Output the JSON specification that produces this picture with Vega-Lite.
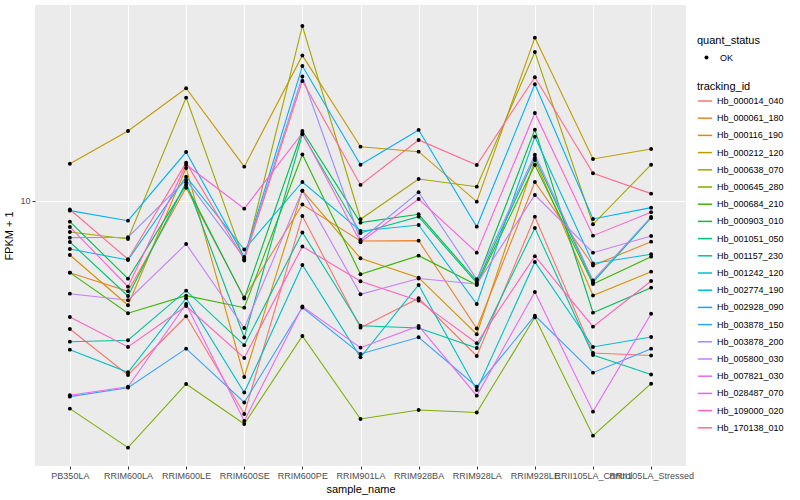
{
"$schema": "https://vega.github.io/schema/vega-lite/v6.json",
"width": 651, "height": 461,
"autosize": {"type": "none"},
"padding": {"left": 35, "top": 5, "right": 114, "bottom": 34},
"background": "white",
"config": {
  "view": {"fill": "#EBEBEB", "stroke": null},
  "font": "Liberation Sans Narrow, Liberation Sans, sans-serif",
  "axis": {"domain": false, "grid": true, "gridColor": "#FFFFFF", "gridWidth": 1.1, "tickColor": "#333333", "tickSize": 3, "tickWidth": 1, "labelColor": "#4D4D4D", "labelFontSize": 9, "titleFontSize": 11, "titleColor": "#000000", "titleFontWeight": "normal"},
  "legend": {"titleFontSize": 11, "titleFontWeight": "normal", "titleColor": "#000000", "labelFontSize": 9, "labelColor": "#000000"}
},
"data": {"values": [
{"tracking_id":"Hb_000014_040","sample_name":"PB350LA","FPKM":3.744,"quant_status":"OK"},
{"tracking_id":"Hb_000014_040","sample_name":"RRIM600LA","FPKM":2.630,"quant_status":"OK"},
{"tracking_id":"Hb_000014_040","sample_name":"RRIM600LE","FPKM":4.128,"quant_status":"OK"},
{"tracking_id":"Hb_000014_040","sample_name":"RRIM600SE","FPKM":1.950,"quant_status":"OK"},
{"tracking_id":"Hb_000014_040","sample_name":"RRIM600PE","FPKM":8.913,"quant_status":"OK"},
{"tracking_id":"Hb_000014_040","sample_name":"RRIM901LA","FPKM":3.782,"quant_status":"OK"},
{"tracking_id":"Hb_000014_040","sample_name":"RRIM928BA","FPKM":4.739,"quant_status":"OK"},
{"tracking_id":"Hb_000014_040","sample_name":"RRIM928LA","FPKM":3.043,"quant_status":"OK"},
{"tracking_id":"Hb_000014_040","sample_name":"RRIM928LE","FPKM":8.865,"quant_status":"OK"},
{"tracking_id":"Hb_000014_040","sample_name":"RRII105LA_Control","FPKM":3.114,"quant_status":"OK"},
{"tracking_id":"Hb_000014_040","sample_name":"RRII105LA_Stressed","FPKM":3.055,"quant_status":"OK"},
{"tracking_id":"Hb_000061_180","sample_name":"PB350LA","FPKM":5.768,"quant_status":"OK"},
{"tracking_id":"Hb_000061_180","sample_name":"RRIM600LA","FPKM":5.000,"quant_status":"OK"},
{"tracking_id":"Hb_000061_180","sample_name":"RRIM600LE","FPKM":11.07,"quant_status":"OK"},
{"tracking_id":"Hb_000061_180","sample_name":"RRIM600SE","FPKM":4.768,"quant_status":"OK"},
{"tracking_id":"Hb_000061_180","sample_name":"RRIM600PE","FPKM":9.734,"quant_status":"OK"},
{"tracking_id":"Hb_000061_180","sample_name":"RRIM901LA","FPKM":7.357,"quant_status":"OK"},
{"tracking_id":"Hb_000061_180","sample_name":"RRIM928BA","FPKM":7.374,"quant_status":"OK"},
{"tracking_id":"Hb_000061_180","sample_name":"RRIM928LA","FPKM":3.758,"quant_status":"OK"},
{"tracking_id":"Hb_000061_180","sample_name":"RRIM928LE","FPKM":11.57,"quant_status":"OK"},
{"tracking_id":"Hb_000061_180","sample_name":"RRII105LA_Control","FPKM":6.095,"quant_status":"OK"},
{"tracking_id":"Hb_000061_180","sample_name":"RRII105LA_Stressed","FPKM":7.317,"quant_status":"OK"},
{"tracking_id":"Hb_000116_190","sample_name":"PB350LA","FPKM":6.607,"quant_status":"OK"},
{"tracking_id":"Hb_000116_190","sample_name":"RRIM600LA","FPKM":4.491,"quant_status":"OK"},
{"tracking_id":"Hb_000116_190","sample_name":"RRIM600LE","FPKM":12.88,"quant_status":"OK"},
{"tracking_id":"Hb_000116_190","sample_name":"RRIM600SE","FPKM":2.590,"quant_status":"OK"},
{"tracking_id":"Hb_000116_190","sample_name":"RRIM600PE","FPKM":10.82,"quant_status":"OK"},
{"tracking_id":"Hb_000116_190","sample_name":"RRIM901LA","FPKM":6.441,"quant_status":"OK"},
{"tracking_id":"Hb_000116_190","sample_name":"RRIM928BA","FPKM":5.550,"quant_status":"OK"},
{"tracking_id":"Hb_000116_190","sample_name":"RRIM928LA","FPKM":3.595,"quant_status":"OK"},
{"tracking_id":"Hb_000116_190","sample_name":"RRIM928LE","FPKM":13.70,"quant_status":"OK"},
{"tracking_id":"Hb_000116_190","sample_name":"RRII105LA_Control","FPKM":4.842,"quant_status":"OK"},
{"tracking_id":"Hb_000116_190","sample_name":"RRII105LA_Stressed","FPKM":5.812,"quant_status":"OK"},
{"tracking_id":"Hb_000212_120","sample_name":"PB350LA","FPKM":13.31,"quant_status":"OK"},
{"tracking_id":"Hb_000212_120","sample_name":"RRIM600LA","FPKM":17.11,"quant_status":"OK"},
{"tracking_id":"Hb_000212_120","sample_name":"RRIM600LE","FPKM":23.75,"quant_status":"OK"},
{"tracking_id":"Hb_000212_120","sample_name":"RRIM600SE","FPKM":13.01,"quant_status":"OK"},
{"tracking_id":"Hb_000212_120","sample_name":"RRIM600PE","FPKM":30.55,"quant_status":"OK"},
{"tracking_id":"Hb_000212_120","sample_name":"RRIM901LA","FPKM":15.17,"quant_status":"OK"},
{"tracking_id":"Hb_000212_120","sample_name":"RRIM928BA","FPKM":14.60,"quant_status":"OK"},
{"tracking_id":"Hb_000212_120","sample_name":"RRIM928LA","FPKM":9.946,"quant_status":"OK"},
{"tracking_id":"Hb_000212_120","sample_name":"RRIM928LE","FPKM":35.02,"quant_status":"OK"},
{"tracking_id":"Hb_000212_120","sample_name":"RRII105LA_Control","FPKM":13.80,"quant_status":"OK"},
{"tracking_id":"Hb_000212_120","sample_name":"RRII105LA_Stressed","FPKM":14.90,"quant_status":"OK"},
{"tracking_id":"Hb_000638_070","sample_name":"PB350LA","FPKM":7.883,"quant_status":"OK"},
{"tracking_id":"Hb_000638_070","sample_name":"RRIM600LA","FPKM":7.470,"quant_status":"OK"},
{"tracking_id":"Hb_000638_070","sample_name":"RRIM600LE","FPKM":22.10,"quant_status":"OK"},
{"tracking_id":"Hb_000638_070","sample_name":"RRIM600SE","FPKM":6.334,"quant_status":"OK"},
{"tracking_id":"Hb_000638_070","sample_name":"RRIM600PE","FPKM":38.31,"quant_status":"OK"},
{"tracking_id":"Hb_000638_070","sample_name":"RRIM901LA","FPKM":8.690,"quant_status":"OK"},
{"tracking_id":"Hb_000638_070","sample_name":"RRIM928BA","FPKM":11.84,"quant_status":"OK"},
{"tracking_id":"Hb_000638_070","sample_name":"RRIM928LA","FPKM":11.16,"quant_status":"OK"},
{"tracking_id":"Hb_000638_070","sample_name":"RRIM928LE","FPKM":31.38,"quant_status":"OK"},
{"tracking_id":"Hb_000638_070","sample_name":"RRII105LA_Control","FPKM":8.362,"quant_status":"OK"},
{"tracking_id":"Hb_000638_070","sample_name":"RRII105LA_Stressed","FPKM":13.21,"quant_status":"OK"},
{"tracking_id":"Hb_000645_280","sample_name":"PB350LA","FPKM":2.031,"quant_status":"OK"},
{"tracking_id":"Hb_000645_280","sample_name":"RRIM600LA","FPKM":1.506,"quant_status":"OK"},
{"tracking_id":"Hb_000645_280","sample_name":"RRIM600LE","FPKM":2.455,"quant_status":"OK"},
{"tracking_id":"Hb_000645_280","sample_name":"RRIM600SE","FPKM":1.806,"quant_status":"OK"},
{"tracking_id":"Hb_000645_280","sample_name":"RRIM600PE","FPKM":3.548,"quant_status":"OK"},
{"tracking_id":"Hb_000645_280","sample_name":"RRIM901LA","FPKM":1.876,"quant_status":"OK"},
{"tracking_id":"Hb_000645_280","sample_name":"RRIM928BA","FPKM":2.010,"quant_status":"OK"},
{"tracking_id":"Hb_000645_280","sample_name":"RRIM928LA","FPKM":1.972,"quant_status":"OK"},
{"tracking_id":"Hb_000645_280","sample_name":"RRIM928LE","FPKM":4.095,"quant_status":"OK"},
{"tracking_id":"Hb_000645_280","sample_name":"RRII105LA_Control","FPKM":1.651,"quant_status":"OK"},
{"tracking_id":"Hb_000645_280","sample_name":"RRII105LA_Stressed","FPKM":2.460,"quant_status":"OK"},
{"tracking_id":"Hb_000684_210","sample_name":"PB350LA","FPKM":5.77,"quant_status":"OK"},
{"tracking_id":"Hb_000684_210","sample_name":"RRIM600LA","FPKM":4.224,"quant_status":"OK"},
{"tracking_id":"Hb_000684_210","sample_name":"RRIM600LE","FPKM":4.834,"quant_status":"OK"},
{"tracking_id":"Hb_000684_210","sample_name":"RRIM600SE","FPKM":4.409,"quant_status":"OK"},
{"tracking_id":"Hb_000684_210","sample_name":"RRIM600PE","FPKM":14.29,"quant_status":"OK"},
{"tracking_id":"Hb_000684_210","sample_name":"RRIM901LA","FPKM":5.698,"quant_status":"OK"},
{"tracking_id":"Hb_000684_210","sample_name":"RRIM928BA","FPKM":6.572,"quant_status":"OK"},
{"tracking_id":"Hb_000684_210","sample_name":"RRIM928LA","FPKM":5.248,"quant_status":"OK"},
{"tracking_id":"Hb_000684_210","sample_name":"RRIM928LE","FPKM":13.18,"quant_status":"OK"},
{"tracking_id":"Hb_000684_210","sample_name":"RRII105LA_Control","FPKM":5.288,"quant_status":"OK"},
{"tracking_id":"Hb_000684_210","sample_name":"RRII105LA_Stressed","FPKM":6.521,"quant_status":"OK"},
{"tracking_id":"Hb_000903_010","sample_name":"PB350LA","FPKM":8.531,"quant_status":"OK"},
{"tracking_id":"Hb_000903_010","sample_name":"RRIM600LA","FPKM":5.508,"quant_status":"OK"},
{"tracking_id":"Hb_000903_010","sample_name":"RRIM600LE","FPKM":11.31,"quant_status":"OK"},
{"tracking_id":"Hb_000903_010","sample_name":"RRIM600SE","FPKM":4.732,"quant_status":"OK"},
{"tracking_id":"Hb_000903_010","sample_name":"RRIM600PE","FPKM":17.11,"quant_status":"OK"},
{"tracking_id":"Hb_000903_010","sample_name":"RRIM901LA","FPKM":8.467,"quant_status":"OK"},
{"tracking_id":"Hb_000903_010","sample_name":"RRIM928BA","FPKM":9.030,"quant_status":"OK"},
{"tracking_id":"Hb_000903_010","sample_name":"RRIM928LA","FPKM":5.411,"quant_status":"OK"},
{"tracking_id":"Hb_000903_010","sample_name":"RRIM928LE","FPKM":17.29,"quant_status":"OK"},
{"tracking_id":"Hb_000903_010","sample_name":"RRII105LA_Control","FPKM":4.243,"quant_status":"OK"},
{"tracking_id":"Hb_000903_010","sample_name":"RRII105LA_Stressed","FPKM":5.141,"quant_status":"OK"},
{"tracking_id":"Hb_001051_050","sample_name":"PB350LA","FPKM":7.300,"quant_status":"OK"},
{"tracking_id":"Hb_001051_050","sample_name":"RRIM600LA","FPKM":4.823,"quant_status":"OK"},
{"tracking_id":"Hb_001051_050","sample_name":"RRIM600LE","FPKM":11.53,"quant_status":"OK"},
{"tracking_id":"Hb_001051_050","sample_name":"RRIM600SE","FPKM":3.508,"quant_status":"OK"},
{"tracking_id":"Hb_001051_050","sample_name":"RRIM600PE","FPKM":16.68,"quant_status":"OK"},
{"tracking_id":"Hb_001051_050","sample_name":"RRIM901LA","FPKM":7.822,"quant_status":"OK"},
{"tracking_id":"Hb_001051_050","sample_name":"RRIM928BA","FPKM":8.865,"quant_status":"OK"},
{"tracking_id":"Hb_001051_050","sample_name":"RRIM928LA","FPKM":5.330,"quant_status":"OK"},
{"tracking_id":"Hb_001051_050","sample_name":"RRIM928LE","FPKM":13.94,"quant_status":"OK"},
{"tracking_id":"Hb_001051_050","sample_name":"RRII105LA_Control","FPKM":5.362,"quant_status":"OK"},
{"tracking_id":"Hb_001051_050","sample_name":"RRII105LA_Stressed","FPKM":8.776,"quant_status":"OK"},
{"tracking_id":"Hb_001157_230","sample_name":"PB350LA","FPKM":3.396,"quant_status":"OK"},
{"tracking_id":"Hb_001157_230","sample_name":"RRIM600LA","FPKM":3.433,"quant_status":"OK"},
{"tracking_id":"Hb_001157_230","sample_name":"RRIM600LE","FPKM":5.023,"quant_status":"OK"},
{"tracking_id":"Hb_001157_230","sample_name":"RRIM600SE","FPKM":3.306,"quant_status":"OK"},
{"tracking_id":"Hb_001157_230","sample_name":"RRIM600PE","FPKM":7.853,"quant_status":"OK"},
{"tracking_id":"Hb_001157_230","sample_name":"RRIM901LA","FPKM":3.840,"quant_status":"OK"},
{"tracking_id":"Hb_001157_230","sample_name":"RRIM928BA","FPKM":3.773,"quant_status":"OK"},
{"tracking_id":"Hb_001157_230","sample_name":"RRIM928LA","FPKM":3.236,"quant_status":"OK"},
{"tracking_id":"Hb_001157_230","sample_name":"RRIM928LE","FPKM":8.128,"quant_status":"OK"},
{"tracking_id":"Hb_001157_230","sample_name":"RRII105LA_Control","FPKM":3.067,"quant_status":"OK"},
{"tracking_id":"Hb_001157_230","sample_name":"RRII105LA_Stressed","FPKM":2.641,"quant_status":"OK"},
{"tracking_id":"Hb_001242_120","sample_name":"PB350LA","FPKM":3.194,"quant_status":"OK"},
{"tracking_id":"Hb_001242_120","sample_name":"RRIM600LA","FPKM":2.685,"quant_status":"OK"},
{"tracking_id":"Hb_001242_120","sample_name":"RRIM600LE","FPKM":4.739,"quant_status":"OK"},
{"tracking_id":"Hb_001242_120","sample_name":"RRIM600SE","FPKM":2.300,"quant_status":"OK"},
{"tracking_id":"Hb_001242_120","sample_name":"RRIM600PE","FPKM":6.119,"quant_status":"OK"},
{"tracking_id":"Hb_001242_120","sample_name":"RRIM901LA","FPKM":3.013,"quant_status":"OK"},
{"tracking_id":"Hb_001242_120","sample_name":"RRIM928BA","FPKM":5.248,"quant_status":"OK"},
{"tracking_id":"Hb_001242_120","sample_name":"RRIM928LA","FPKM":2.344,"quant_status":"OK"},
{"tracking_id":"Hb_001242_120","sample_name":"RRIM928LE","FPKM":6.262,"quant_status":"OK"},
{"tracking_id":"Hb_001242_120","sample_name":"RRII105LA_Control","FPKM":3.261,"quant_status":"OK"},
{"tracking_id":"Hb_001242_120","sample_name":"RRII105LA_Stressed","FPKM":3.521,"quant_status":"OK"},
{"tracking_id":"Hb_002774_190","sample_name":"PB350LA","FPKM":6.918,"quant_status":"OK"},
{"tracking_id":"Hb_002774_190","sample_name":"RRIM600LA","FPKM":6.358,"quant_status":"OK"},
{"tracking_id":"Hb_002774_190","sample_name":"RRIM600LE","FPKM":12.05,"quant_status":"OK"},
{"tracking_id":"Hb_002774_190","sample_name":"RRIM600SE","FPKM":6.891,"quant_status":"OK"},
{"tracking_id":"Hb_002774_190","sample_name":"RRIM600PE","FPKM":11.57,"quant_status":"OK"},
{"tracking_id":"Hb_002774_190","sample_name":"RRIM901LA","FPKM":7.943,"quant_status":"OK"},
{"tracking_id":"Hb_002774_190","sample_name":"RRIM928BA","FPKM":8.318,"quant_status":"OK"},
{"tracking_id":"Hb_002774_190","sample_name":"RRIM928LA","FPKM":4.536,"quant_status":"OK"},
{"tracking_id":"Hb_002774_190","sample_name":"RRIM928LE","FPKM":16.38,"quant_status":"OK"},
{"tracking_id":"Hb_002774_190","sample_name":"RRII105LA_Control","FPKM":6.190,"quant_status":"OK"},
{"tracking_id":"Hb_002774_190","sample_name":"RRII105LA_Stressed","FPKM":6.642,"quant_status":"OK"},
{"tracking_id":"Hb_002928_090","sample_name":"PB350LA","FPKM":9.283,"quant_status":"OK"},
{"tracking_id":"Hb_002928_090","sample_name":"RRIM600LA","FPKM":8.596,"quant_status":"OK"},
{"tracking_id":"Hb_002928_090","sample_name":"RRIM600LE","FPKM":14.56,"quant_status":"OK"},
{"tracking_id":"Hb_002928_090","sample_name":"RRIM600SE","FPKM":6.506,"quant_status":"OK"},
{"tracking_id":"Hb_002928_090","sample_name":"RRIM600PE","FPKM":28.18,"quant_status":"OK"},
{"tracking_id":"Hb_002928_090","sample_name":"RRIM901LA","FPKM":13.21,"quant_status":"OK"},
{"tracking_id":"Hb_002928_090","sample_name":"RRIM928BA","FPKM":17.25,"quant_status":"OK"},
{"tracking_id":"Hb_002928_090","sample_name":"RRIM928LA","FPKM":8.209,"quant_status":"OK"},
{"tracking_id":"Hb_002928_090","sample_name":"RRIM928LE","FPKM":24.49,"quant_status":"OK"},
{"tracking_id":"Hb_002928_090","sample_name":"RRII105LA_Control","FPKM":8.710,"quant_status":"OK"},
{"tracking_id":"Hb_002928_090","sample_name":"RRII105LA_Stressed","FPKM":9.500,"quant_status":"OK"},
{"tracking_id":"Hb_003878_150","sample_name":"PB350LA","FPKM":2.227,"quant_status":"OK"},
{"tracking_id":"Hb_003878_150","sample_name":"RRIM600LA","FPKM":2.386,"quant_status":"OK"},
{"tracking_id":"Hb_003878_150","sample_name":"RRIM600LE","FPKM":3.219,"quant_status":"OK"},
{"tracking_id":"Hb_003878_150","sample_name":"RRIM600SE","FPKM":2.130,"quant_status":"OK"},
{"tracking_id":"Hb_003878_150","sample_name":"RRIM600PE","FPKM":4.416,"quant_status":"OK"},
{"tracking_id":"Hb_003878_150","sample_name":"RRIM901LA","FPKM":3.090,"quant_status":"OK"},
{"tracking_id":"Hb_003878_150","sample_name":"RRIM928BA","FPKM":3.513,"quant_status":"OK"},
{"tracking_id":"Hb_003878_150","sample_name":"RRIM928LA","FPKM":2.404,"quant_status":"OK"},
{"tracking_id":"Hb_003878_150","sample_name":"RRIM928LE","FPKM":4.147,"quant_status":"OK"},
{"tracking_id":"Hb_003878_150","sample_name":"RRII105LA_Control","FPKM":2.677,"quant_status":"OK"},
{"tracking_id":"Hb_003878_150","sample_name":"RRII105LA_Stressed","FPKM":3.219,"quant_status":"OK"},
{"tracking_id":"Hb_003878_200","sample_name":"PB350LA","FPKM":7.546,"quant_status":"OK"},
{"tracking_id":"Hb_003878_200","sample_name":"RRIM600LA","FPKM":7.569,"quant_status":"OK"},
{"tracking_id":"Hb_003878_200","sample_name":"RRIM600LE","FPKM":11.75,"quant_status":"OK"},
{"tracking_id":"Hb_003878_200","sample_name":"RRIM600SE","FPKM":6.457,"quant_status":"OK"},
{"tracking_id":"Hb_003878_200","sample_name":"RRIM600PE","FPKM":26.00,"quant_status":"OK"},
{"tracking_id":"Hb_003878_200","sample_name":"RRIM901LA","FPKM":7.413,"quant_status":"OK"},
{"tracking_id":"Hb_003878_200","sample_name":"RRIM928BA","FPKM":10.69,"quant_status":"OK"},
{"tracking_id":"Hb_003878_200","sample_name":"RRIM928LA","FPKM":5.483,"quant_status":"OK"},
{"tracking_id":"Hb_003878_200","sample_name":"RRIM928LE","FPKM":14.27,"quant_status":"OK"},
{"tracking_id":"Hb_003878_200","sample_name":"RRII105LA_Control","FPKM":5.433,"quant_status":"OK"},
{"tracking_id":"Hb_003878_200","sample_name":"RRII105LA_Stressed","FPKM":8.845,"quant_status":"OK"},
{"tracking_id":"Hb_005800_030","sample_name":"PB350LA","FPKM":4.909,"quant_status":"OK"},
{"tracking_id":"Hb_005800_030","sample_name":"RRIM600LA","FPKM":4.667,"quant_status":"OK"},
{"tracking_id":"Hb_005800_030","sample_name":"RRIM600LE","FPKM":7.189,"quant_status":"OK"},
{"tracking_id":"Hb_005800_030","sample_name":"RRIM600SE","FPKM":3.773,"quant_status":"OK"},
{"tracking_id":"Hb_005800_030","sample_name":"RRIM600PE","FPKM":10.82,"quant_status":"OK"},
{"tracking_id":"Hb_005800_030","sample_name":"RRIM901LA","FPKM":4.887,"quant_status":"OK"},
{"tracking_id":"Hb_005800_030","sample_name":"RRIM928BA","FPKM":5.517,"quant_status":"OK"},
{"tracking_id":"Hb_005800_030","sample_name":"RRIM928LA","FPKM":5.288,"quant_status":"OK"},
{"tracking_id":"Hb_005800_030","sample_name":"RRIM928LE","FPKM":10.47,"quant_status":"OK"},
{"tracking_id":"Hb_005800_030","sample_name":"RRII105LA_Control","FPKM":6.725,"quant_status":"OK"},
{"tracking_id":"Hb_005800_030","sample_name":"RRII105LA_Stressed","FPKM":7.644,"quant_status":"OK"},
{"tracking_id":"Hb_007821_030","sample_name":"PB350LA","FPKM":2.251,"quant_status":"OK"},
{"tracking_id":"Hb_007821_030","sample_name":"RRIM600LA","FPKM":2.404,"quant_status":"OK"},
{"tracking_id":"Hb_007821_030","sample_name":"RRIM600LE","FPKM":4.536,"quant_status":"OK"},
{"tracking_id":"Hb_007821_030","sample_name":"RRIM600SE","FPKM":1.848,"quant_status":"OK"},
{"tracking_id":"Hb_007821_030","sample_name":"RRIM600PE","FPKM":4.449,"quant_status":"OK"},
{"tracking_id":"Hb_007821_030","sample_name":"RRIM901LA","FPKM":3.244,"quant_status":"OK"},
{"tracking_id":"Hb_007821_030","sample_name":"RRIM928BA","FPKM":3.831,"quant_status":"OK"},
{"tracking_id":"Hb_007821_030","sample_name":"RRIM928LA","FPKM":2.244,"quant_status":"OK"},
{"tracking_id":"Hb_007821_030","sample_name":"RRIM928LE","FPKM":4.974,"quant_status":"OK"},
{"tracking_id":"Hb_007821_030","sample_name":"RRII105LA_Control","FPKM":1.985,"quant_status":"OK"},
{"tracking_id":"Hb_007821_030","sample_name":"RRII105LA_Stressed","FPKM":4.210,"quant_status":"OK"},
{"tracking_id":"Hb_028487_070","sample_name":"PB350LA","FPKM":8.190,"quant_status":"OK"},
{"tracking_id":"Hb_028487_070","sample_name":"RRIM600LA","FPKM":5.180,"quant_status":"OK"},
{"tracking_id":"Hb_028487_070","sample_name":"RRIM600LE","FPKM":13.21,"quant_status":"OK"},
{"tracking_id":"Hb_028487_070","sample_name":"RRIM600SE","FPKM":9.426,"quant_status":"OK"},
{"tracking_id":"Hb_028487_070","sample_name":"RRIM600PE","FPKM":16.85,"quant_status":"OK"},
{"tracking_id":"Hb_028487_070","sample_name":"RRIM901LA","FPKM":7.283,"quant_status":"OK"},
{"tracking_id":"Hb_028487_070","sample_name":"RRIM928BA","FPKM":10.15,"quant_status":"OK"},
{"tracking_id":"Hb_028487_070","sample_name":"RRIM928LA","FPKM":6.725,"quant_status":"OK"},
{"tracking_id":"Hb_028487_070","sample_name":"RRIM928LE","FPKM":19.65,"quant_status":"OK"},
{"tracking_id":"Hb_028487_070","sample_name":"RRII105LA_Control","FPKM":7.662,"quant_status":"OK"},
{"tracking_id":"Hb_028487_070","sample_name":"RRII105LA_Stressed","FPKM":9.168,"quant_status":"OK"},
{"tracking_id":"Hb_109000_020","sample_name":"PB350LA","FPKM":4.105,"quant_status":"OK"},
{"tracking_id":"Hb_109000_020","sample_name":"RRIM600LA","FPKM":3.261,"quant_status":"OK"},
{"tracking_id":"Hb_109000_020","sample_name":"RRIM600LE","FPKM":4.467,"quant_status":"OK"},
{"tracking_id":"Hb_109000_020","sample_name":"RRIM600SE","FPKM":2.997,"quant_status":"OK"},
{"tracking_id":"Hb_109000_020","sample_name":"RRIM600PE","FPKM":7.052,"quant_status":"OK"},
{"tracking_id":"Hb_109000_020","sample_name":"RRIM901LA","FPKM":5.399,"quant_status":"OK"},
{"tracking_id":"Hb_109000_020","sample_name":"RRIM928BA","FPKM":4.653,"quant_status":"OK"},
{"tracking_id":"Hb_109000_020","sample_name":"RRIM928LA","FPKM":3.355,"quant_status":"OK"},
{"tracking_id":"Hb_109000_020","sample_name":"RRIM928LE","FPKM":6.542,"quant_status":"OK"},
{"tracking_id":"Hb_109000_020","sample_name":"RRII105LA_Control","FPKM":3.811,"quant_status":"OK"},
{"tracking_id":"Hb_109000_020","sample_name":"RRII105LA_Stressed","FPKM":5.411,"quant_status":"OK"},
{"tracking_id":"Hb_170138_010","sample_name":"PB350LA","FPKM":9.369,"quant_status":"OK"},
{"tracking_id":"Hb_170138_010","sample_name":"RRIM600LA","FPKM":6.393,"quant_status":"OK"},
{"tracking_id":"Hb_170138_010","sample_name":"RRIM600LE","FPKM":13.42,"quant_status":"OK"},
{"tracking_id":"Hb_170138_010","sample_name":"RRIM600SE","FPKM":6.383,"quant_status":"OK"},
{"tracking_id":"Hb_170138_010","sample_name":"RRIM600PE","FPKM":25.12,"quant_status":"OK"},
{"tracking_id":"Hb_170138_010","sample_name":"RRIM901LA","FPKM":11.31,"quant_status":"OK"},
{"tracking_id":"Hb_170138_010","sample_name":"RRIM928BA","FPKM":15.97,"quant_status":"OK"},
{"tracking_id":"Hb_170138_010","sample_name":"RRIM928LA","FPKM":13.18,"quant_status":"OK"},
{"tracking_id":"Hb_170138_010","sample_name":"RRIM928LE","FPKM":25.84,"quant_status":"OK"},
{"tracking_id":"Hb_170138_010","sample_name":"RRII105LA_Control","FPKM":12.37,"quant_status":"OK"},
{"tracking_id":"Hb_170138_010","sample_name":"RRII105LA_Stressed","FPKM":10.58,"quant_status":"OK"}
]},
"encoding": {
  "x": {"field": "sample_name", "type": "nominal",
        "sort": ["PB350LA","RRIM600LA","RRIM600LE","RRIM600SE","RRIM600PE","RRIM901LA","RRIM928BA","RRIM928LA","RRIM928LE","RRII105LA_Control","RRII105LA_Stressed"],
        "scale": {"type": "point", "padding": 0.6},
        "axis": {"title": "sample_name", "labelAngle": 0, "labelOverlap": false, "labelPadding": 2, "titlePadding": 3}},
  "y": {"field": "FPKM", "type": "quantitative",
        "scale": {"type": "log", "domain": [1.308, 45.0], "nice": false, "zero": false},
        "axis": {"values": [10], "format": ".0f", "title": "FPKM + 1", "labelPadding": 2, "titlePadding": 5}}
},
"layer": [
  {"mark": {"type": "line", "strokeWidth": 1.1},
   "encoding": {
     "color": {"field": "tracking_id", "type": "nominal",
       "scale": {"domain": ["Hb_000014_040","Hb_000061_180","Hb_000116_190","Hb_000212_120","Hb_000638_070","Hb_000645_280","Hb_000684_210","Hb_000903_010","Hb_001051_050","Hb_001157_230","Hb_001242_120","Hb_002774_190","Hb_002928_090","Hb_003878_150","Hb_003878_200","Hb_005800_030","Hb_007821_030","Hb_028487_070","Hb_109000_020","Hb_170138_010"],
                 "range": ["#F8766D","#EA8331","#D89000","#C09B00","#A3A500","#7CAE00","#39B600","#00BB4E","#00BF7D","#00C1A3","#00BFC4","#00BAE0","#00B0F6","#35A2FF","#9590FF","#C77CFF","#E76BF3","#FA62DB","#FF62BC","#FF6C91"]},
       "legend": {"title": "tracking_id", "orient": "none", "legendX": 662, "legendY": 76, "symbolType": "stroke", "symbolStrokeWidth": 1.5, "symbolSize": 200, "rowPadding": 4.2, "labelOffset": 4, "titlePadding": 1}}
   }},
  {"mark": {"type": "point", "filled": true, "size": 15, "opacity": 1, "color": "black"},
   "encoding": {
     "shape": {"field": "quant_status", "type": "nominal", "scale": {"range": ["circle"]},
       "legend": {"title": "quant_status", "orient": "none", "legendX": 662, "legendY": 30, "symbolFillColor": "black", "symbolStrokeColor": "black", "symbolSize": 16, "symbolOffset": 5, "labelOffset": 9, "titlePadding": 7}}
   }}
]
}
